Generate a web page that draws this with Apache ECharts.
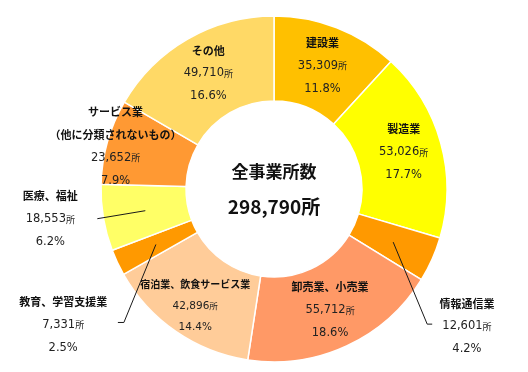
<!DOCTYPE html>
<html>
<head>
<meta charset="utf-8">
<script src="https://cdn.jsdelivr.net/npm/echarts@6/dist/echarts.min.js"></script>
<style>
html,body{margin:0;padding:0;background:#fff;}
#chart{width:528px;height:372px;}
</style>
</head>
<body>
<div id="chart"></div>
<script>
// ---- data ----
const categories = ['建設業','製造業','情報通信業','卸売業、小売業','宿泊業、飲食サービス業','教育、学習支援業','医療、福祉','サービス業\n（他に分類されないもの）','その他'];
const values = [35309, 53026, 12601, 55712, 42896, 7331, 18553, 23652, 49710];
const percents = ['11.8%','17.7%','4.2%','18.6%','14.4%','2.5%','6.2%','7.9%','16.6%'];
const totalLabel = '298,790';
const centerTitle = '全事業所数';

// ---- style / layout ----
const colors = ['#FFC000','#FFFF00','#FF9900','#FF9966','#FFCC99','#FF9900','#FFFF66','#FF9933','#FFD966'];
const CX = 274, CY = 189, R0 = 88, R1 = 173;
const smallItems = {4: true};
const labelOffsets = [[0,1],[1,-1],[71,83],[0,0],[-3,6],[-90,79],[-92,8],[-30,-6],[1,0]];
const leaderLines = {2: [[34,82],[39,82]], 5: [[-32,78],[-38,78]], 6: [[-48,8]]};
const FONT = '"Noto Sans CJK JP", "Noto Sans", sans-serif';
const NUMFONT = '"DejaVu Sans", "Noto Sans CJK JP", sans-serif';

function fmtNum(v){ return v.toString().replace(/\B(?=(\d{3})+(?!\d))/g, ','); }

const total = values.reduce((a,b)=>a+b,0);
// anchors at mid-angle / mid-radius (computed from the data)
const anchors = [];
let cum = 0;
values.forEach(v => {
  const a = (cum + v/2) / total * 2 * Math.PI;
  const r = (R0 + R1) / 2;
  anchors.push([CX + r*Math.sin(a), CY - r*Math.cos(a)]);
  cum += v;
});

const graphics = [];
Object.keys(leaderLines).forEach(k => {
  const i = +k, an = anchors[i];
  const pts = [an].concat(leaderLines[k].map(p => [an[0]+p[0], an[1]+p[1]]));
  graphics.push({type:'polyline', z:100, shape:{points:pts}, style:{stroke:'#1a1a1a', lineWidth:1, fill:null}});
});
graphics.push({type:'text', z:100, x:CX, y:172, style:{text:centerTitle, font:'bold 17px '+FONT, fill:'#111', align:'center', verticalAlign:'middle'}});
graphics.push({type:'text', z:100, x:CX, y:207, style:{text:totalLabel+'所', font:'bold 19px '+FONT, fill:'#111', align:'center', verticalAlign:'middle'}});

const data = categories.map((c,i) => ({
  name: c, value: values[i],
  itemStyle: {color: colors[i]},
  label: smallItems[i] ? {
    formatter: c.split('\n').map(s=>'{sn|'+s+'}').join('\n') + '\n{sv|' + fmtNum(values[i]) + '}{su|所}\n{sp|' + percents[i] + '}'
  } : {
    formatter: c.split('\n').map(s=>'{n|'+s+'}').join('\n') + '\n{v|' + fmtNum(values[i]) + '}{u|所}\n{p|' + percents[i] + '}'
  }
}));

const chart = echarts.init(document.getElementById('chart'), null, {renderer:'canvas'});
chart.setOption({
  backgroundColor: '#fff',
  animation: false,
  graphic: graphics,
  series: [{
    type: 'pie',
    center: [CX, CY],
    radius: [R0, R1],
    startAngle: 90,
    clockwise: true,
    avoidLabelOverlap: false,
    itemStyle: {borderColor:'#fff', borderWidth:1.5},
    label: {
      show: true,
      position: 'inside',
      fontFamily: FONT,
      rich: {
        n: {fontSize:11, fontWeight:'bold', color:'#111', lineHeight:23, fontFamily:FONT},
        v: {fontSize:11.5, color:'#222', lineHeight:23, fontFamily:NUMFONT},
        u: {fontSize:9, color:'#222', lineHeight:23, fontFamily:FONT},
        p: {fontSize:11.5, color:'#222', lineHeight:23, fontFamily:NUMFONT},
        sn: {fontSize:10, fontWeight:'bold', color:'#111', lineHeight:23, fontFamily:FONT},
        sv: {fontSize:10.5, color:'#222', lineHeight:21, fontFamily:NUMFONT},
        su: {fontSize:8.5, color:'#222', lineHeight:21, fontFamily:FONT},
        sp: {fontSize:10.5, color:'#222', lineHeight:21, fontFamily:NUMFONT}
      }
    },
    labelLine: {show:false},
    labelLayout: function(p){ const o = labelOffsets[p.dataIndex]; return {dx:o[0], dy:o[1]}; },
    emphasis: {disabled:true},
    data: data
  }]
});
</script>
</body>
</html>
